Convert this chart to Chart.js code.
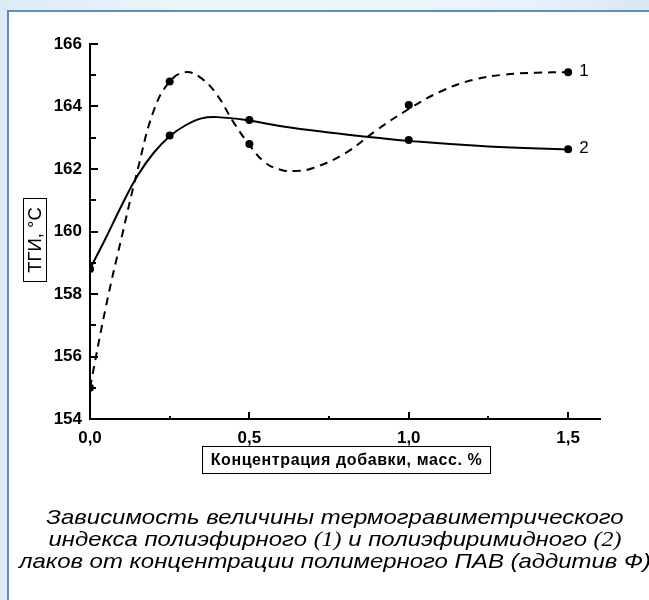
<!DOCTYPE html>
<html>
<head>
<meta charset="utf-8">
<script src="https://cdn.jsdelivr.net/npm/chart.js@4/dist/chart.umd.min.js"></script>
<style>
  html, body {
    margin: 0;
    padding: 0;
  }
  body {
    width: 649px;
    height: 600px;
    overflow: hidden;
    position: relative;
    background: linear-gradient(90deg, #dcebf7 0%, #edf5fb 30%, #eaf3fb 80%, #d9e7f4 100%);
    font-family: "Liberation Sans", Arial, sans-serif;
  }
  #panel {
    position: absolute;
    left: 7px;
    top: 10px;
    width: 660px;
    height: 610px;
    background: #fff;
    border: 2px solid #5b8ec6;
    box-sizing: border-box;
  }
  #chart {
    position: absolute;
    left: 0;
    top: 0;
  }
  #yTitle {
    position: absolute;
    left: -7px;
    top: 228px;
    width: 84px;
    height: 24px;
    border: 1px solid #000;
    box-sizing: border-box;
    transform: rotate(-90deg);
    font-size: 18.5px;
    line-height: 22px;
    text-align: center;
    color: #000;
    white-space: nowrap;
  }
  #xTitle {
    position: absolute;
    left: 202px;
    top: 446px;
    width: 289px;
    height: 28px;
    border: 1px solid #000;
    box-sizing: border-box;
    font-size: 16px;
    font-weight: bold;
    letter-spacing: 0.6px;
    line-height: 26px;
    text-align: center;
    color: #000;
    white-space: nowrap;
  }
  #caption {
    position: absolute;
    left: 0;
    top: 506px;
    width: 670px;
    text-align: center;
    font-style: italic;
    font-size: 21px;
    line-height: 22px;
    color: #000;
    white-space: nowrap;
    transform: scaleX(1.14);
    transform-origin: 335px 0;
  }
  #caption .num {
    font-family: "Liberation Serif", "Times New Roman", serif;
  }
</style>
</head>
<body>
<div id="panel"></div>
<canvas id="chart" width="649" height="600"></canvas>
<div id="yTitle">ТГИ, °С</div>
<div id="xTitle">Концентрация добавки, масс. %</div>
<div id="caption">
  Зависимость величины термогравиметрического<br>
  индекса полиэфирного <span class="num">(1)</span> и полиэфиримидного <span class="num">(2)</span><br>
  лаков от концентрации полимерного ПАВ (аддитив Ф)
</div>
<script>
// curve 1 (dashed, polyester varnish) - smoothed line
const curve1X = [0, 0.05, 0.1, 0.15, 0.2, 0.25, 0.3, 0.35, 0.4, 0.45, 0.5, 0.55, 0.6, 0.65, 0.7, 0.8, 0.9, 1.0, 1.1, 1.2, 1.3, 1.4, 1.5];
const curve1Y = [155.0, 157.6, 159.85, 162.0, 163.87, 164.8, 165.1, 164.9, 164.35, 163.5, 162.77, 162.2, 161.97, 161.94, 162.03, 162.5, 163.25, 163.92, 164.48, 164.85, 165.02, 165.08, 165.1];

// curve 2 (solid, polyesterimide varnish)
const curve2X = [0, 0.05, 0.1, 0.15, 0.2, 0.25, 0.3, 0.35, 0.4, 0.5, 0.6, 0.75, 0.9, 1.0, 1.25, 1.5];
const curve2Y = [158.8, 159.8, 160.85, 161.8, 162.52, 163.05, 163.4, 163.62, 163.66, 163.55, 163.37, 163.17, 163.0, 162.9, 162.72, 162.62];

// measured points
const pointsX = [0, 0.25, 0.5, 1.0, 1.5];
const points1Y = [155.0, 164.8, 162.8, 164.05, 165.1];
const points2Y = [158.8, 163.07, 163.57, 162.93, 162.63];
const seriesNames = ["1", "2"];

// axis ticks
const xTicks = [0, 0.5, 1.0, 1.5];
const xMinorTicks = [0.25, 0.75, 1.25];
const yTicks = [154, 156, 158, 160, 162, 164, 166];
const yMinorTicks = [155, 157, 159, 161, 163, 165];

function toXY(xs, ys) {
  return xs.map(function (x, i) {
    return { x: x, y: ys[i] };
  });
}

// inward tick marks, like the original plot
const innerTicksPlugin = {
  id: "innerTicks",
  afterDraw: function (chart) {
    var ctx = chart.ctx;
    var xs = chart.scales.x;
    var ys = chart.scales.y;
    var area = chart.chartArea;
    ctx.save();
    ctx.strokeStyle = "#000";
    ctx.lineWidth = 2;
    ctx.beginPath();
    xTicks.forEach(function (v) {
      if (v === 0) return;
      var px = Math.round(xs.getPixelForValue(v));
      ctx.moveTo(px, area.bottom);
      ctx.lineTo(px, area.bottom - 7);
    });
    xMinorTicks.forEach(function (v) {
      var px = Math.round(xs.getPixelForValue(v));
      ctx.moveTo(px, area.bottom);
      ctx.lineTo(px, area.bottom - 3);
    });
    yTicks.forEach(function (v) {
      var py = Math.round(ys.getPixelForValue(v));
      ctx.moveTo(area.left, py);
      ctx.lineTo(area.left + 8, py);
    });
    yMinorTicks.forEach(function (v) {
      var py = Math.round(ys.getPixelForValue(v));
      ctx.moveTo(area.left, py);
      ctx.lineTo(area.left + 6, py);
    });
    ctx.stroke();
    ctx.restore();
  },
};

// "1" and "2" next to the last points
const seriesLabelPlugin = {
  id: "seriesLabels",
  afterDatasetsDraw: function (chart) {
    var ctx = chart.ctx;
    ctx.save();
    ctx.fillStyle = "#000";
    ctx.font = "17px 'Liberation Sans', Arial, sans-serif";
    ctx.textBaseline = "middle";
    ctx.textAlign = "left";
    [2, 3].forEach(function (idx, n) {
      var meta = chart.getDatasetMeta(idx);
      var last = meta.data[meta.data.length - 1];
      ctx.fillText(seriesNames[n], last.x + 11, last.y - 1);
    });
    ctx.restore();
  },
};

new Chart(document.getElementById("chart"), {
  type: "scatter",
  data: {
    datasets: [
      {
        data: toXY(curve1X, curve1Y),
        showLine: true,
        borderColor: "#000",
        borderWidth: 2,
        borderDash: [8, 6],
        pointRadius: 0,
        tension: 0.4,
        fill: false,
      },
      {
        data: toXY(curve2X, curve2Y),
        showLine: true,
        borderColor: "#000",
        borderWidth: 2,
        pointRadius: 0,
        tension: 0.4,
        fill: false,
      },
      {
        data: toXY(pointsX, points1Y),
        showLine: false,
        pointRadius: 4,
        pointBackgroundColor: "#000",
        pointBorderColor: "#000",
        pointBorderWidth: 0,
      },
      {
        data: toXY(pointsX, points2Y),
        showLine: false,
        pointRadius: 4,
        pointBackgroundColor: "#000",
        pointBorderColor: "#000",
        pointBorderWidth: 0,
      },
    ],
  },
  options: {
    responsive: false,
    animation: false,
    events: [],
    layout: {
      padding: { top: 44, right: 49, bottom: 141, left: 0 },
    },
    plugins: {
      legend: { display: false },
      tooltip: { enabled: false },
    },
    scales: {
      x: {
        type: "linear",
        min: 0,
        max: 1.6,
        afterBuildTicks: function (scale) {
          scale.ticks = xTicks.map(function (v) {
            return { value: v };
          });
        },
        afterFit: function (scale) {
          scale.height = 40;
        },
        ticks: {
          color: "#000",
          padding: 9,
          maxRotation: 0,
          font: { family: "'Liberation Sans', Arial", size: 17, weight: "bold" },
          callback: function (v) {
            return Number(v).toFixed(1).replace(".", ",");
          },
        },
        grid: { display: false, drawTicks: false },
        border: { display: true, color: "#000", width: 2 },
      },
      y: {
        type: "linear",
        min: 154,
        max: 166,
        afterBuildTicks: function (scale) {
          scale.ticks = yTicks.map(function (v) {
            return { value: v };
          });
        },
        afterFit: function (scale) {
          scale.width = 90;
        },
        ticks: {
          color: "#000",
          padding: 8,
          font: { family: "'Liberation Sans', Arial", size: 17, weight: "bold" },
        },
        grid: { display: false, drawTicks: false },
        border: { display: true, color: "#000", width: 2 },
      },
    },
  },
  plugins: [innerTicksPlugin, seriesLabelPlugin],
});
</script>
</body>
</html>
